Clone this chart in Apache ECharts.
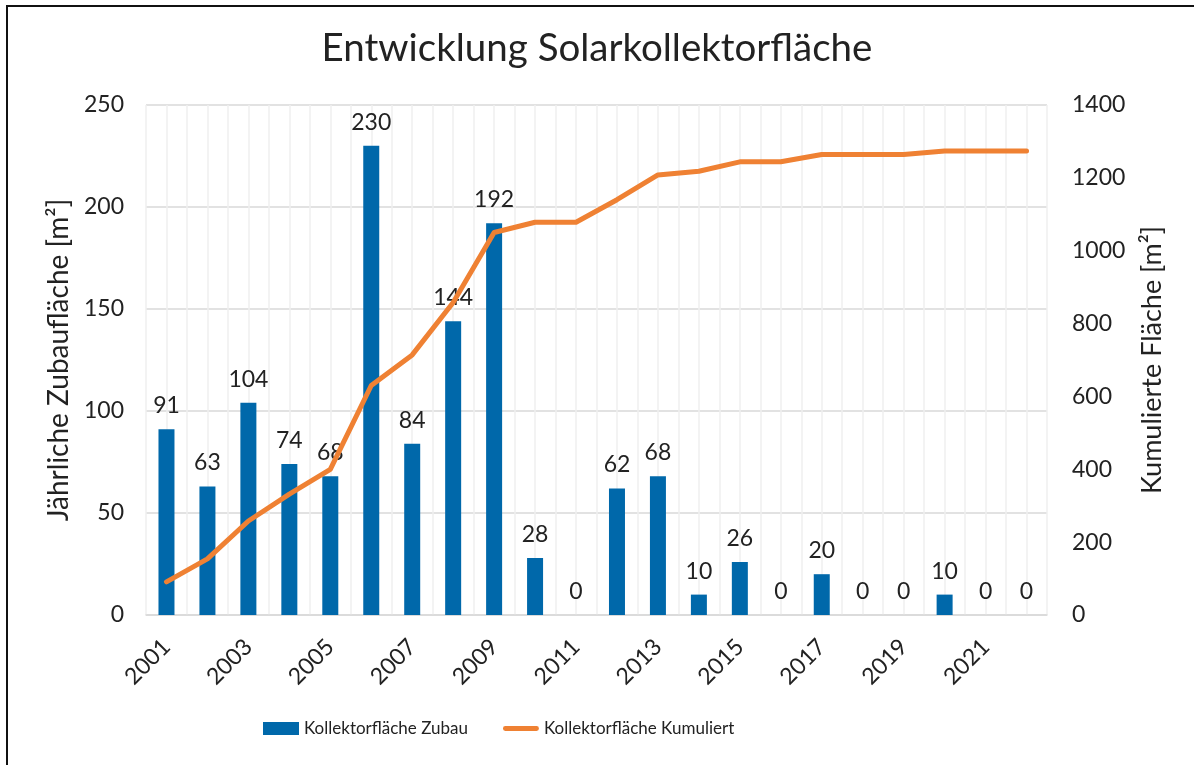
<!DOCTYPE html>
<html>
<head>
<meta charset="utf-8">
<script src="https://cdn.jsdelivr.net/npm/echarts@6/dist/echarts.min.js"></script>
<style>html,body{margin:0;padding:0;background:#fff;}#c{width:1194px;height:765px;}</style>
</head>
<body>
<div id="c"></div>
<script>
const years = ['2001','2002','2003','2004','2005','2006','2007','2008','2009','2010','2011','2012','2013','2014','2015','2016','2017','2018','2019','2020','2021','2022'];
const zubau = [91,63,104,74,68,230,84,144,192,28,0,62,68,10,26,0,20,0,0,10,0,0];
const kumuliert = [91,154,258,332,400,630,714,858,1050,1078,1078,1140,1208,1218,1244,1244,1264,1264,1264,1274,1274,1274];
const leftTicks = {min:0, max:250, interval:50};
const rightTicks = {min:0, max:1400, interval:200};

const FONT = 'Lato';
const TXT = '#222222';
const chart = echarts.init(document.getElementById('c'));
chart.setOption({
  animation: false,
  backgroundColor: '#ffffff',
  textStyle: {fontFamily: FONT},
  title: {
    text: 'Entwicklung Solarkollektorfläche',
    left: 'center', top: 24,
    textStyle: {fontFamily: FONT, fontSize: 38.5, fontWeight: 'normal', color: TXT}
  },
  graphic: [
    {type: 'line', silent: true, z: 100, shape: {x1: 7, y1: 6, x2: 1194, y2: 6}, style: {stroke: '#111', lineWidth: 2}},
    {type: 'line', silent: true, z: 100, shape: {x1: 7, y1: 5, x2: 7, y2: 765}, style: {stroke: '#111', lineWidth: 2}}
  ],
  legend: {
    left: 263, top: 720, padding: 0,
    itemWidth: 36, itemHeight: 13, itemGap: 35,
    textStyle: {fontFamily: FONT, fontSize: 17, color: TXT},
    data: [
      {name: 'Kollektorfläche Zubau', icon: 'rect'},
      {name: 'Kollektorfläche Kumuliert', icon: 'path://M2.5,0 L34.5,0 A2.5,2.5 0 0 1 34.5,5 L2.5,5 A2.5,2.5 0 0 1 2.5,0 Z', itemStyle: {color: '#EF8133'}}
    ]
  },
  grid: {left: 146, right: 147, top: 105, bottom: 150},
  xAxis: [{
    type: 'category', data: years, boundaryGap: true,
    axisLine: {lineStyle: {color: '#d9d9d9', width: 1.5}},
    axisTick: {show: false},
    splitLine: {show: false},
    axisLabel: {interval: 1, rotate: 45, fontSize: 23, color: TXT, margin: 28, fontFamily: FONT}
  }, {
    type: 'value', min: 0, max: 44, interval: 1, position: 'top',
    axisLine: {show: false}, axisTick: {show: false}, axisLabel: {show: false},
    splitLine: {show: true, lineStyle: {color: '#efefef', width: 1.5}}
  }],
  yAxis: [{
    type: 'value', min: leftTicks.min, max: leftTicks.max, interval: leftTicks.interval,
    name: 'Jährliche Zubaufläche [m²]', nameLocation: 'middle', nameGap: 72, nameRotate: 90,
    nameTextStyle: {fontFamily: FONT, fontSize: 28, color: TXT},
    axisLine: {show: false}, axisTick: {show: false},
    axisLabel: {fontSize: 23, color: TXT, margin: 22, fontFamily: FONT},
    splitLine: {lineStyle: {color: '#d9d9d9', width: 1.5}}
  }, {
    type: 'value', min: rightTicks.min, max: rightTicks.max, interval: rightTicks.interval,
    name: 'Kumulierte Fläche [m²]', nameLocation: 'middle', nameGap: 92, nameRotate: 90,
    nameTextStyle: {fontFamily: FONT, fontSize: 27, color: TXT},
    axisLine: {show: false}, axisTick: {show: false},
    axisLabel: {fontSize: 23, color: TXT, margin: 25, fontFamily: FONT, formatter: v => String(v)},
    splitLine: {show: false}
  }],
  series: [{
    name: 'Kollektorfläche Zubau', type: 'bar', data: zubau,
    xAxisIndex: 0, yAxisIndex: 0, barWidth: 16,
    itemStyle: {color: '#0068AA'},
    label: {show: true, position: 'top', distance: 12, fontSize: 23, color: TXT, fontFamily: FONT}
  }, {
    name: 'Kollektorfläche Kumuliert', type: 'line', data: kumuliert,
    xAxisIndex: 0, yAxisIndex: 1, symbol: 'none', smooth: false, z: 5,
    lineStyle: {color: '#EF8133', width: 5, cap: 'round', join: 'round'},
    itemStyle: {color: '#EF8133'}
  }]
});
</script>
</body>
</html>
